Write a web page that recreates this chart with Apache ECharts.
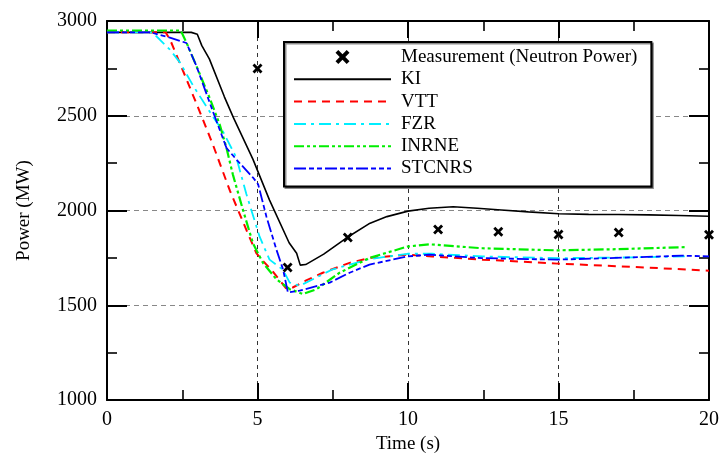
<!DOCTYPE html>
<html><head><meta charset="utf-8">
<script src="https://cdn.jsdelivr.net/npm/echarts@6/dist/echarts.min.js"></script>
<style>html,body{margin:0;padding:0;background:#fff}#c{width:722px;height:459px}</style>
</head><body><div id="c"></div>
<script>
// ---- data ----
const measT = [5, 6, 8, 11, 13, 15, 17, 20];
const measP = [2750, 1700, 1858, 1900, 1888, 1874, 1884, 1872];

const kiT = [0, 2.8, 3.0, 3.15, 3.4, 3.9, 4.2, 4.85, 5.4, 6.05, 6.3, 6.42, 6.6, 7.2, 7.95, 8.7, 9.3, 10.0, 10.7, 11.5, 12.3, 13.1, 14.0, 15.0, 16.0, 17.0, 18.0, 19.0, 20];
const kiP = [2940, 2940, 2930, 2870, 2800, 2600, 2490, 2270, 2055, 1830, 1775, 1712, 1715, 1770, 1855, 1930, 1968, 1997, 2012, 2020, 2012, 2003, 1993, 1983, 1980, 1979, 1977, 1974, 1970];

const vttT = [0, 1.95, 2.1, 2.64, 3.08, 3.52, 4.08, 4.63, 4.96, 5.13, 5.5, 5.96, 6.17, 6.6, 7.17, 8.06, 8.72, 9.98, 10.8, 12.47, 14.96, 17.45, 20];
const vttP = [2940, 2940, 2900, 2693, 2522, 2347, 2106, 1898, 1776, 1743, 1680, 1587, 1594, 1630, 1672, 1724, 1750, 1767, 1758, 1741, 1720, 1703, 1683];

const fzrT = [0, 1.5, 1.76, 2.09, 2.42, 2.86, 3.5, 3.85, 4.3, 4.63, 5.07, 5.4, 5.84, 6.07, 6.4, 7.5, 8.72, 9.98, 10.8, 12.47, 14.96, 17.0, 19.3];
const fzrP = [2940, 2940, 2901, 2849, 2782, 2659, 2500, 2418, 2278, 2087, 1862, 1741, 1689, 1620, 1603, 1690, 1744, 1772, 1772, 1758, 1749, 1752, 1758];

const inrT = [0, 2.45, 2.64, 2.97, 3.42, 3.75, 3.97, 4.18, 4.52, 4.85, 5.18, 5.63, 6.07, 6.51, 6.96, 7.73, 8.72, 9.98, 10.7, 12.47, 14.96, 16.9, 19.2];
const inrP = [2950, 2950, 2886, 2763, 2590, 2451, 2330, 2191, 2002, 1827, 1724, 1637, 1585, 1560, 1585, 1672, 1750, 1810, 1822, 1801, 1790, 1796, 1807];

const stcT = [0, 1.45, 2.09, 2.64, 2.97, 3.52, 3.97, 4.3, 4.85, 5.02, 5.3, 5.63, 5.85, 6.01, 6.4, 7.4, 8.06, 8.72, 9.98, 10.7, 12.47, 14.96, 17.45, 19.1, 20];
const stcP = [2940, 2940, 2912, 2884, 2763, 2522, 2330, 2269, 2174, 2139, 1966, 1793, 1689, 1568, 1577, 1620, 1672, 1715, 1758, 1767, 1749, 1741, 1753, 1762, 1758];

const seriesNames = ['Measurement (Neutron Power)', 'KI', 'VTT', 'FZR', 'INRNE', 'STCNRS'];
const xTicks = {min: 0, max: 20, interval: 5};
const yTicks = {min: 1000, max: 3000, interval: 500};

// ---- chart ----
const zip = (a, b) => a.map((t, i) => [t, b[i]]);
const FONT = 'Liberation Serif';
const xMark = 'path://M0,2L2,0L5,3L8,0L10,2L7,5L10,8L8,10L5,7L2,10L0,8L3,5Z';

function axisBase(pos, showLabel, split) {
  const vert = pos === 'left' || pos === 'right';
  const tk = vert ? yTicks : xTicks;
  return {
    type: 'value', position: pos,
    min: tk.min, max: tk.max, interval: tk.interval,
    axisLine: {show: true, onZero: false, lineStyle: {color: '#000', width: 2}},
    axisTick: {show: true, inside: true, length: vert ? 20 : 17, lineStyle: {color: '#000', width: 2}},
    minorTick: {show: true, splitNumber: 2, length: 10, lineStyle: {color: '#000', width: 1.6}},
    axisLabel: {show: showLabel, fontFamily: FONT, fontSize: 20, color: '#000', margin: 10,
      formatter: v => String(v)},
    splitLine: split
  };
}

const xMain = Object.assign(axisBase('bottom', true, {show: true, lineStyle: {color: '#333', width: 1, type: [4, 4]}}), {
  name: 'Time (s)', nameLocation: 'middle', nameGap: 34,
  nameTextStyle: {fontFamily: FONT, fontSize: 19, color: '#000'}
});
const xTop = axisBase('top', false, {show: false});
const yMain = Object.assign(axisBase('left', true, {show: true, lineStyle: {color: '#888', width: 1, type: [5, 4]}}), {
  name: 'Power (MW)', nameLocation: 'middle', nameGap: 73,
  nameTextStyle: {fontFamily: FONT, fontSize: 19, color: '#000'}
});
const yRight = axisBase('right', false, {show: false});

function lineSeries(name, t, p, color, width, type) {
  return {
    name, type: 'line', data: zip(t, p), symbol: 'none', showSymbol: false, smooth: false,
    xAxisIndex: 0, yAxisIndex: 0,
    lineStyle: {color, width, type}, itemStyle: {color},
    emphasis: {disabled: true}, z: 3
  };
}

const chart = echarts.init(document.getElementById('c'), null, {renderer: 'canvas'});
chart.setOption({
  animation: false,
  backgroundColor: '#fff',
  grid: {left: 107, right: 12, top: 21, bottom: 53, containLabel: false},
  xAxis: [xMain, xTop],
  yAxis: [yMain, yRight],
  legend: {
    orient: 'vertical', left: 284, top: 42,
    backgroundColor: '#fff', borderColor: '#000', borderWidth: 2,
    shadowColor: 'rgba(0,0,0,0.45)', shadowOffsetX: 1.5, shadowOffsetY: 1.5, shadowBlur: 0,
    padding: [5, 14, 8, 9],
    itemWidth: 97, itemHeight: 14, itemGap: 2.3,
    textStyle: {fontFamily: FONT, fontSize: 19, color: '#000', lineHeight: 20, padding: [0, 0, 0, 5]},
    data: [{name: seriesNames[0], icon: xMark, itemStyle: {color: '#000', opacity: 1}}].concat(
      seriesNames.slice(1).map(n => ({name: n, itemStyle: {opacity: 0}}))),
    selectedMode: false
  },
  series: [
    {
      name: seriesNames[0], type: 'scatter', data: zip(measT, measP),
      symbol: xMark, symbolSize: 10, itemStyle: {color: '#000', opacity: 1},
      emphasis: {disabled: true}, clip: false, z: 4
    },
    lineSeries(seriesNames[1], kiT, kiP, '#000000', 1.6, 'solid'),
    lineSeries(seriesNames[2], vttT, vttP, '#ff0000', 2, [8, 6]),
    lineSeries(seriesNames[3], fzrT, fzrP, '#00eeff', 1.8, [12, 5, 3, 5]),
    lineSeries(seriesNames[4], inrT, inrP, '#00ee00', 2.2, [10, 3, 3, 3, 3, 3]),
    lineSeries(seriesNames[5], stcT, stcP, '#0000ff', 1.8, [12, 3, 5, 3, 5, 3])
  ]
});
</script>
</body></html>
